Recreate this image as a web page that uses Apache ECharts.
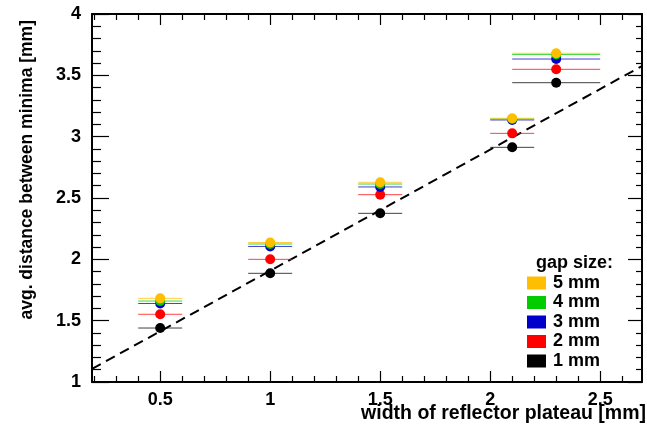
<!DOCTYPE html>
<html>
<head>
<meta charset="utf-8">
<script src="https://cdn.jsdelivr.net/npm/echarts@6/dist/echarts.min.js"></script>
<style>
  html, body { margin: 0; padding: 0; background: #fff; }
  #chart { width: 647px; height: 425px; }
</style>
</head>
<body>
<div id="chart"></div>
<script>
// reflector plateau widths and horizontal error half-widths
var xPos = [0.5, 1, 1.5, 2.1, 2.3];
var xErr = [0.1, 0.1, 0.1, 0.1, 0.2];

// avg. distance between minima per gap size
var gap1mm = [1.44, 1.886, 2.375, 2.913, 3.44];
var gap2mm = [1.552, 2.0, 2.527, 3.027, 3.549];
var gap3mm = [1.64, 2.105, 2.59, 3.136, 3.633];
var gap4mm = [1.66, 2.125, 2.614, 3.144, 3.67];
var gap5mm = [1.682, 2.137, 2.628, 3.15, 3.68];

var gapNames = ['1 mm', '2 mm', '3 mm', '4 mm', '5 mm'];
var gapColors = ['#000000', '#ff0000', '#0000cc', '#00cc00', '#ffbf00'];
var gapValues = [gap1mm, gap2mm, gap3mm, gap4mm, gap5mm];

// dashed reference line
var fitLine = [[0.19, 1.107], [2.69, 3.576]];

var xMajorTicks = [0.5, 1, 1.5, 2, 2.5];
var xMinorTicks = [0.2, 0.3, 0.4, 0.6, 0.7, 0.8, 0.9, 1.1, 1.2, 1.3, 1.4, 1.6, 1.7, 1.8, 1.9,
                   2.1, 2.2, 2.3, 2.4, 2.6];

var FONT = '"Liberation Sans", Arial, sans-serif';
var X_MIN = 0.19, X_MAX = 2.69;

function xAxisDef(pos, tickLen, ticks, withLabels, withLine) {
  return {
    type: 'value', position: pos, min: X_MIN, max: X_MAX,
    axisLine: { show: withLine, onZero: false, lineStyle: { color: '#000', width: 2 } },
    axisTick: { show: true, inside: true, length: tickLen, customValues: ticks,
                lineStyle: { color: '#000', width: 1.2 } },
    axisLabel: withLabels ? { show: true, customValues: ticks, color: '#000', fontSize: 18,
                fontWeight: 'bold', fontFamily: FONT, margin: 9 } : { show: false },
    splitLine: { show: false }
  };
}

function yAxisDef(pos, majorLen, minorLen, withLabels) {
  return {
    type: 'value', position: pos, min: 1, max: 4, interval: 0.5,
    axisLine: { show: true, onZero: false, lineStyle: { color: '#000', width: 2 } },
    axisTick: { show: true, inside: true, length: majorLen, lineStyle: { color: '#000', width: 1.2 } },
    minorTick: { show: true, splitNumber: 5, length: minorLen, lineStyle: { color: '#000', width: 1.2 } },
    axisLabel: withLabels ? { show: true, color: '#000', fontSize: 18, fontWeight: 'bold',
                fontFamily: FONT, margin: 11 } : { show: false },
    splitLine: { show: false }
  };
}

var series = [];

series.push({
  name: 'fit', type: 'line', data: fitLine, xAxisIndex: 0, yAxisIndex: 0,
  symbol: 'none', silent: true, z: 2,
  lineStyle: { color: '#000', width: 2, type: [10, 6] }
});

gapNames.forEach(function (name, i) {
  var color = gapColors[i];
  var rows = xPos.map(function (x, j) { return [x, xErr[j], gapValues[i][j]]; });
  series.push({
    name: name + ' err', type: 'custom', xAxisIndex: 0, yAxisIndex: 0, z: 3,
    data: rows, encode: { x: 0, y: 2 }, silent: true,
    renderItem: function (params, api) {
      var x = api.value(0), e = api.value(1), y = api.value(2);
      var p1 = api.coord([x - e, y]);
      var p2 = api.coord([x + e, y]);
      return {
        type: 'line',
        shape: { x1: p1[0], y1: p1[1], x2: p2[0], y2: p2[1] },
        style: { stroke: color, lineWidth: 1, opacity: 0.75 }
      };
    }
  });
});

gapNames.forEach(function (name, i) {
  series.push({
    name: name, type: 'scatter', xAxisIndex: 0, yAxisIndex: 0, z: 4 + i,
    symbol: 'circle', symbolSize: 10,
    itemStyle: { color: gapColors[i], opacity: 1 },
    data: xPos.map(function (x, j) { return [x, gapValues[i][j]]; })
  });
});

var chart = echarts.init(document.getElementById('chart'));
chart.setOption({
  animation: false,
  backgroundColor: '#fff',
  grid: { left: 92, right: 5, top: 14, bottom: 43, containLabel: false },
  xAxis: [
    xAxisDef('bottom', 11, xMajorTicks, true, true),
    xAxisDef('bottom', 6, xMinorTicks, false, false),
    xAxisDef('top', 11, xMajorTicks, false, true),
    xAxisDef('top', 6, xMinorTicks, false, false)
  ],
  yAxis: [
    yAxisDef('left', 17, 9, true),
    yAxisDef('right', 14, 6, false)
  ],
  legend: {
    data: gapNames.slice().reverse(),
    orient: 'vertical', left: 522, top: 269,
    icon: 'rect', itemWidth: 19, itemHeight: 13, itemGap: 1.5,
    selectedMode: false,
    textStyle: { color: '#000', fontSize: 18, fontWeight: 'bold', fontFamily: FONT, padding: [0, 0, 0, 2] }
  },
  graphic: [
    {
      type: 'text', left: 536, top: 254,
      style: { text: 'gap size:', fill: '#000', font: 'bold 18px ' + FONT }
    },
    {
      type: 'text', right: 1, top: 404,
      style: { text: 'width of reflector plateau [mm]', fill: '#000', font: 'bold 19.5px ' + FONT }
    },
    {
      type: 'text', x: 27, y: 20, rotation: Math.PI / 2,
      style: { text: 'avg. distance between minima [mm]', fill: '#000', font: 'bold 17.5px ' + FONT,
               align: 'right', verticalAlign: 'middle' }
    }
  ],
  series: series
});
</script>
</body>
</html>
